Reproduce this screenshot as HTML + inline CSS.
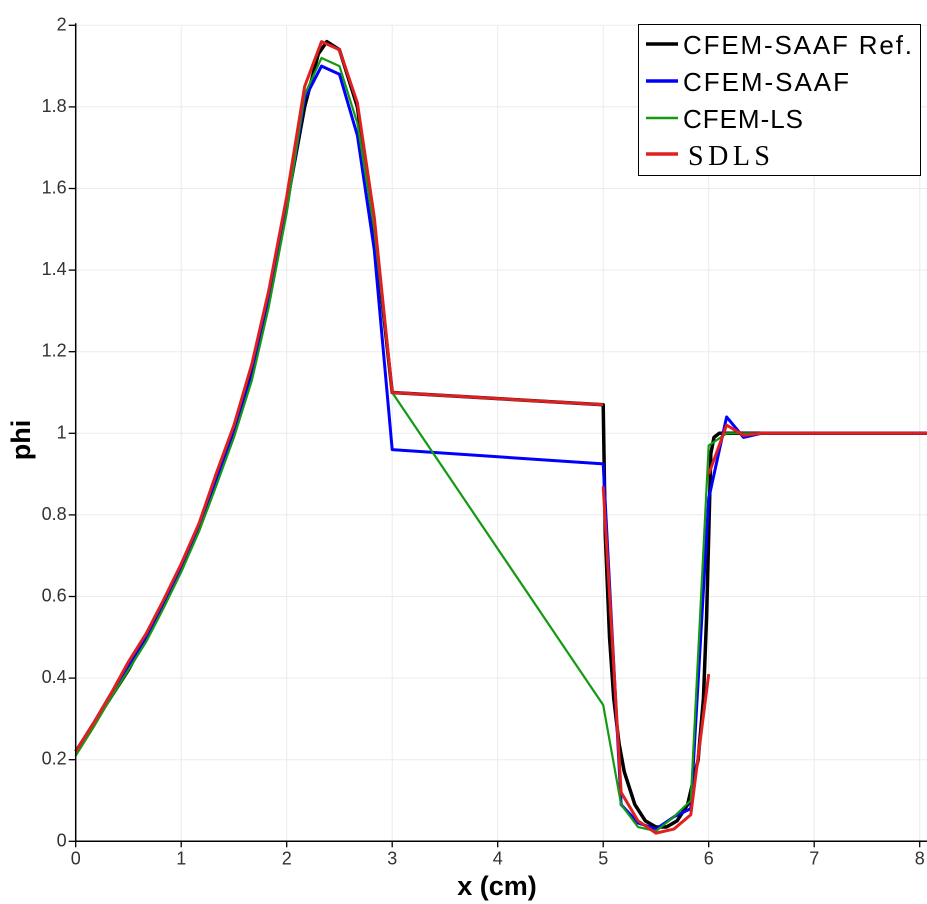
<!DOCTYPE html>
<html><head><meta charset="utf-8"><style>body{margin:0;background:#fff}svg{display:block}text{font-family:"Liberation Sans",sans-serif}</style></head>
<body>
<svg id="chart" width="927" height="904" xmlns="http://www.w3.org/2000/svg">
<g id="grid"></g>
<g id="series"></g>
<g id="axes"></g>
<text x="0" y="0" transform="translate(30,440) rotate(-90)" text-anchor="middle" font-weight="bold" font-size="27">phi</text>
<text x="497" y="895" text-anchor="middle" font-weight="bold" font-size="27">x (cm)</text>
<g>
<rect x="638.5" y="24.5" width="282" height="151" fill="#fff" stroke="#000" stroke-width="1"/>
<line x1="646" y1="44" x2="678" y2="44" stroke="#000" stroke-width="3.5"/>
<text x="683" y="54" font-size="26" textLength="229">CFEM-SAAF Ref.</text>
<line x1="646" y1="81" x2="678" y2="81" stroke="#0000ff" stroke-width="3.5"/>
<text x="683" y="91" font-size="26" textLength="166">CFEM-SAAF</text>
<line x1="646" y1="118" x2="678" y2="118" stroke="#139a13" stroke-width="2.5"/>
<text x="683" y="128" font-size="26" textLength="120">CFEM-LS</text>
<line x1="646" y1="154" x2="678" y2="154" stroke="#e02020" stroke-width="3.5"/>
<text x="688" y="165" font-size="28" style="font-family:'Liberation Serif',serif" textLength="82">SDLS</text>
</g>
</svg>
<script>
const xTicks=[0,1,2,3,4,5,6,7,8];
const yTicks=[0,0.2,0.4,0.6,0.8,1,1.2,1.4,1.6,1.8,2];
const yTickLabels=["0","0.2","0.4","0.6","0.8","1","1.2","1.4","1.6","1.8","2"];
const refX=[0,0.25,0.5,0.75,1,1.25,1.5,1.75,2,2.17,2.3,2.38,2.5,2.67,2.83,3,5,5.02,5.06,5.1,5.15,5.2,5.3,5.4,5.5,5.6,5.7,5.8,5.9,5.95,5.98,6,6.02,6.05,6.1,8.07];
const refY=[0.22,0.32,0.42,0.54,0.67,0.82,1.0,1.24,1.56,1.8,1.93,1.96,1.94,1.8,1.5,1.1,1.07,0.75,0.5,0.35,0.24,0.17,0.09,0.05,0.035,0.035,0.05,0.09,0.2,0.35,0.55,0.75,0.95,0.99,1.0,1.0];
const saafX=[0,0.17,0.33,0.5,0.67,0.83,1,1.17,1.33,1.5,1.67,1.83,2,2.17,2.33,2.5,2.67,2.83,3,5,5.17,5.33,5.5,5.67,5.83,6,6.17,6.33,6.5,6.67,8.07];
const saafY=[0.22,0.29,0.36,0.43,0.5,0.58,0.67,0.77,0.88,1.0,1.14,1.32,1.55,1.82,1.9,1.88,1.73,1.45,0.96,0.925,0.09,0.045,0.03,0.06,0.08,0.84,1.04,0.99,1.0,1.0,1.0];
const lsX=[0,0.17,0.33,0.5,0.67,0.83,1,1.17,1.33,1.5,1.67,1.83,2,2.17,2.33,2.5,2.67,2.83,3,5,5.17,5.33,5.5,5.67,5.83,6,6.17,6.33,8.07];
const lsY=[0.21,0.28,0.35,0.42,0.49,0.57,0.66,0.76,0.87,0.99,1.13,1.31,1.54,1.83,1.92,1.9,1.76,1.5,1.1,0.334,0.09,0.035,0.025,0.06,0.1,0.97,1.0,1.0,1.0];
const sdlsAX=[0,0.17,0.33,0.5,0.67,0.83,1,1.17,1.33,1.5,1.67,1.83,2,2.17,2.33,2.5,2.67,2.83,3,5];
const sdlsAY=[0.22,0.29,0.36,0.44,0.51,0.59,0.68,0.78,0.9,1.02,1.17,1.35,1.58,1.85,1.96,1.94,1.81,1.53,1.1,1.07];
const sdlsBX=[5,5.17,5.33,5.5,5.67,5.83,6];
const sdlsBY=[0.87,0.12,0.05,0.02,0.03,0.065,0.41];
const sdlsCX=[6,6.17,6.33,6.5,6.67,8.07];
const sdlsCY=[0.9,1.02,0.995,1.0,1.0,1.0];
const NS="http://www.w3.org/2000/svg";
const X0=75.7,XS=105.5,Y0=841.3,YS=408;
function sx(v){return X0+v*XS}
function sy(v){return Y0-v*YS}
function mk(t,a,p){const e=document.createElementNS(NS,t);for(const k in a)e.setAttribute(k,a[k]);p.appendChild(e);return e}
const grid=document.getElementById('grid'),axes=document.getElementById('axes'),ser=document.getElementById('series');
xTicks.forEach(v=>{
 const g=mk('line',{x1:sx(v),x2:sx(v),y1:sy(2),y2:Y0,stroke:'#ebebeb','stroke-width':1},grid);
 
 
 const t=mk('line',{x1:sx(v),x2:sx(v),y1:Y0,y2:Y0+6,stroke:'#000','stroke-width':1.3},axes);
 
 
 const l=mk('text',{x:sx(v),y:Y0+23,'text-anchor':'middle','font-size':18,fill:'#333'},axes);
 l.textContent=String(v);
 
 
});
yTicks.forEach((v,i)=>{
 const g=mk('line',{x1:X0,x2:927,y1:sy(v),y2:sy(v),stroke:'#ebebeb','stroke-width':1},grid);
 
 
 const t=mk('line',{x1:X0-7,x2:X0,y1:sy(v),y2:sy(v),stroke:'#000','stroke-width':1.3},axes);
 
 
 const l=mk('text',{x:X0-9,y:sy(v)+5,'text-anchor':'end','font-size':18,fill:'#333'},axes);
 l.textContent=yTickLabels[i];
 
 
});
const xa=mk('line',{x1:X0,x2:927,y1:Y0,y2:Y0,stroke:'#000','stroke-width':1.5},axes);


const ya=mk('line',{x1:X0,x2:X0,y1:sy(2)-2,y2:Y0,stroke:'#000','stroke-width':1.5},axes);


function line(xs,ys,col,w,name){
 const p=mk('polyline',{points:xs.map((x,i)=>sx(x)+','+sy(ys[i])).join(' '),fill:'none',stroke:col,'stroke-width':w,'stroke-linejoin':'round'},ser);
 
 
}
line(refX,refY,'#000',3.5,'series-cfem-saaf-ref');
line(saafX,saafY,'#0000ff',3,'series-cfem-saaf');
line(lsX,lsY,'#139a13',2.2,'series-cfem-ls');
line(sdlsAX,sdlsAY,'#e02020',3,'series-sdls-a');
line(sdlsBX,sdlsBY,'#e02020',3,'series-sdls-b');
line(sdlsCX,sdlsCY,'#e02020',3,'series-sdls-c');
</script>
</body></html>
